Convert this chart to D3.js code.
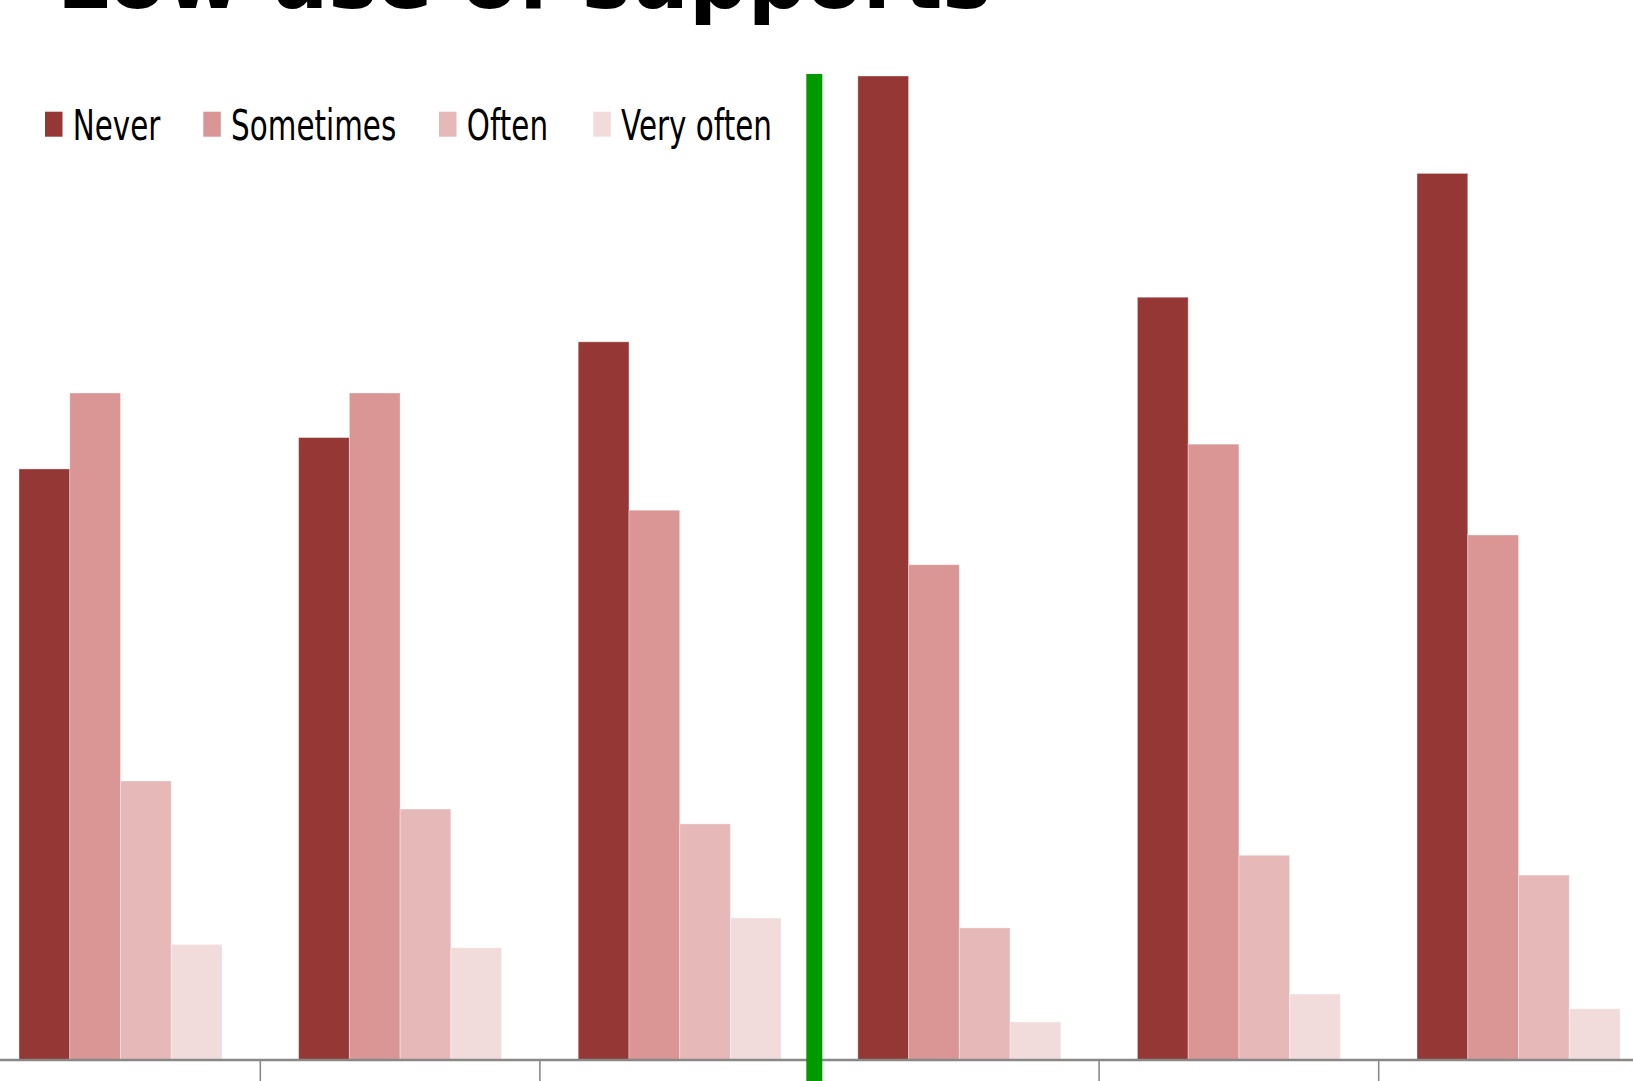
<!DOCTYPE html>
<html>
<head>
<meta charset="utf-8">
<script src="https://cdn.jsdelivr.net/npm/d3@7"></script>
<style>
  html, body { margin: 0; padding: 0; background: #fff; overflow: hidden; }
  svg { display: block; }
</style>
</head>
<body>
<svg id="chart" width="1633" height="1081"></svg>
<script>
// Share of respondents (%) by frequency of use, per group
const categories = ["A", "B", "C", "D", "E", "F"];
const seriesNames = ["Never", "Sometimes", "Often", "Very often"];
const never      = [35.8, 37.7, 43.5, 59.6, 46.2, 53.7];
const sometimes  = [40.4, 40.4, 33.3, 30.0, 37.3, 31.8];
const often      = [16.9, 15.2, 14.3,  8.0, 12.4, 11.2];
const veryOften  = [ 7.0,  6.8,  8.6,  2.3,  4.0,  3.1];
const titleText = "Low use of supports";

const colors = ["#953735", "#D99694", "#E6B9B8", "#F2DCDB"];
const seriesValues = [never, sometimes, often, veryOften];

const rows = categories.map((c, i) => ({
  cat: c,
  values: seriesNames.map((s, j) => ({ key: s, value: seriesValues[j][i] }))
}));

const svg = d3.select("#chart");
const W = 1633, H = 1081;
const baseY = 1060;

// Category bands (boundaries carry the tick marks)
const step = 279.6;
const x0 = d3.scaleBand()
  .domain(categories)
  .range([-19.3, -19.3 + step * categories.length])
  .paddingInner(0).paddingOuter(0);

const x1 = d3.scaleBand()
  .domain(seriesNames)
  .range([0, x0.bandwidth()])
  .paddingInner(0)
  .paddingOuter(0.755);

const y = d3.scaleLinear().domain([0, 60]).range([baseY, baseY - 60 * 16.51]);
const color = d3.scaleOrdinal().domain(seriesNames).range(colors);

// Bars
const groups = svg.append("g").selectAll("g")
  .data(rows).join("g")
  .attr("transform", d => `translate(${x0(d.cat)},0)`);

groups.selectAll("rect")
  .data(d => d.values).join("rect")
  .attr("x", d => x1(d.key))
  .attr("width", x1.bandwidth())
  .attr("y", d => y(d.value))
  .attr("height", d => y(0) - y(d.value))
  .attr("fill", d => color(d.key))
  .attr("stroke", "rgba(255,255,255,0.35)")
  .attr("stroke-width", 1);

// Category axis: baseline and boundary ticks
const axis = svg.append("g");
axis.append("line")
  .attr("x1", 0).attr("x2", W)
  .attr("y1", baseY).attr("y2", baseY)
  .attr("stroke", "#888").attr("stroke-width", 2.4);
axis.selectAll("line.tick")
  .data(categories.slice(1)).join("line")
  .attr("class", "tick")
  .attr("x1", d => x0(d)).attr("x2", d => x0(d))
  .attr("y1", baseY).attr("y2", H)
  .attr("stroke", "#8a8a8a").attr("stroke-width", 1.6);

// Divider between the first three and last three groups
const divX = x0("D") - 5.2;
svg.append("line")
  .attr("x1", divX).attr("x2", divX)
  .attr("y1", 74).attr("y2", H)
  .attr("stroke", "#009900").attr("stroke-width", 16);

// Title (runs off the top edge)
svg.append("text")
  .attr("x", 57).attr("y", 8)
  .attr("font-family", "'DejaVu Sans', Verdana, sans-serif")
  .attr("font-weight", "bold")
  .attr("font-size", 82)
  .attr("fill", "#000")
  .text(titleText);

// Legend (narrow, horizontally condensed lettering)
const legendX = [45, 203.3, 439, 593.3];
const sx = 0.70;
const legend = svg.append("g").selectAll("g")
  .data(seriesNames).join("g")
  .attr("transform", (d, i) => `translate(${legendX[i]},0) scale(${sx},1)`);
legend.append("rect")
  .attr("x", 0).attr("y", 111.7)
  .attr("width", 25).attr("height", 25)
  .attr("fill", d => color(d));
legend.append("text")
  .attr("x", 39.7).attr("y", 140)
  .attr("font-family", "'DejaVu Sans', Verdana, sans-serif")
  .attr("font-size", 42)
  .attr("fill", "#000")
  .text(d => d);
</script>
</body>
</html>
